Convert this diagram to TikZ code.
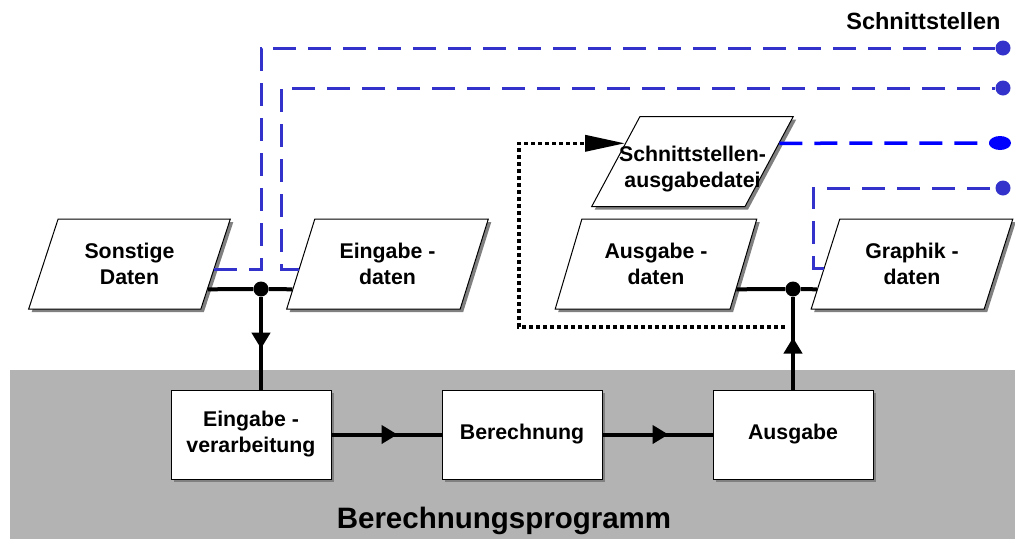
\documentclass[tikz,border=0pt]{standalone}
\usepackage{fontspec}
\setmainfont{Liberation Sans}
\usetikzlibrary{shapes.geometric,arrows.meta,decorations.markings,shadows,calc}
\definecolor{band}{HTML}{B3B3B3}
\definecolor{ifblue}{HTML}{3333CC}
\definecolor{pureblue}{HTML}{0000FF}
\begin{document}
\begin{tikzpicture}[x=1pt,y=-1pt,
  font=\bfseries\fontsize{21.3}{26}\selectfont,
  shade/.style={drop shadow={shadow xshift=3pt,shadow yshift=-3pt,fill=black!50,opacity=1}},
  datafile/.style={trapezium,trapezium left angle=66,trapezium right angle=114,
    trapezium stretches=true,minimum width=202pt,minimum height=90pt,inner sep=0pt,
    draw,line width=1pt,fill=white,align=center,shade},
  unit/.style={rectangle,minimum width=160pt,minimum height=89pt,inner sep=0pt,
    draw,line width=1pt,fill=white,align=center,shade},
  flow/.style={line width=4pt},
  midarrow/.style={postaction={decorate},decoration={markings,
    mark=at position #1 with {\arrow{Triangle[length=16pt,width=18pt]}}}},
  iface/.style={ifblue,line width=3pt,dash pattern=on 23pt off 12pt},
  joint/.style={circle,fill=black,inner sep=0pt,minimum size=15pt},
  port/.style={circle,fill=ifblue,inner sep=0pt,minimum size=15pt}]

\useasboundingbox (0,0) rectangle (1015,539);

% program area
\fill[band] (10,370) rectangle (1015,539);
\node[anchor=base,font=\bfseries\fontsize{29.5}{34}\selectfont] (prog) at (504,528) {Berechnungsprogramm};
\node[anchor=base east,font=\bfseries\fontsize{23.5}{28}\selectfont] (title) at (1004,29) {Schnittstellen};

% data files
\node[datafile] (sd) at (129.5,264) {Sonstige\\Daten};
\node[datafile] (ed) at (387.5,264) {Eingabe -\\daten};
\node[datafile,label={[yshift=-8pt,align=center]center:Schnittstellen-\\ausgabedatei}] (sa) at (692.5,161.5) {\phantom{X}};
\node[datafile] (ad) at (656,264) {Ausgabe -\\daten};
\node[datafile] (gd) at (912,264) {Graphik -\\daten};

% program units
\node[unit] (ev) at (251,434.5) {Eingabe -\\verarbeitung};
\node[unit] (be) at (522,434.5) {Berechnung};
\node[unit] (au) at (793,434.5) {Ausgabe};

% junctions
\node[joint] (j1) at (261,289) {};
\node[joint] (j2) at (793,289) {};

% interface ends
\node[port] (s1) at (1003,48) {};
\node[port] (s2) at (1003,88) {};
\coordinate (s3) at (1000,143);
\node[port] (s4) at (1003,188) {};

% data flow
\draw[flow] ($(sd.bottom right corner)!0.222!(sd.top right corner)$) -- (j1)
  -- ($(ed.bottom left corner)!0.222!(ed.top left corner)$);
\draw[flow,midarrow=0.56] (j1) -- (j1 |- ev.north);
\draw[flow,midarrow=0.6] (ev.east) -- (be.west);
\draw[flow,midarrow=0.6] (be.east) -- (au.west);
\draw[flow,midarrow=0.56] (au.north) -- (j2);
\draw[flow] ($(ad.bottom right corner)!0.222!(ad.top right corner)$) -- (j2)
  -- ($(gd.bottom left corner)!0.222!(gd.top left corner)$);

% feedback to the interface output file
\coordinate (dstart) at (785,327);
\coordinate (dl) at (519,327);
\draw[line width=3.6pt,dash pattern=on 4pt off 3pt,-{Triangle[length=40pt,width=16pt]}]
  (dstart) -- (dl) |- ($(sa.bottom left corner)!0.70!(sa.top left corner)$);

% interfaces
\coordinate (k2) at (281,88);
\coordinate (k4) at (813,188);
\draw[iface] ($(sd.bottom right corner)!0.444!(sd.top right corner)$) -| (j1 |- s1) -- (s1);
\draw[iface] ($(ed.bottom left corner)!0.444!(ed.top left corner)$) -| (k2) -- (s2);
\draw[iface,pureblue,line width=3.5pt] ($(sa.bottom right corner)!0.70!(sa.top right corner)$) -- (s3);
\fill[pureblue] (s3) ellipse (11pt and 7pt);
\draw[iface] ($(gd.bottom left corner)!0.456!(gd.top left corner)$) -| (k4) -- (s4);
\end{tikzpicture}
\end{document}
